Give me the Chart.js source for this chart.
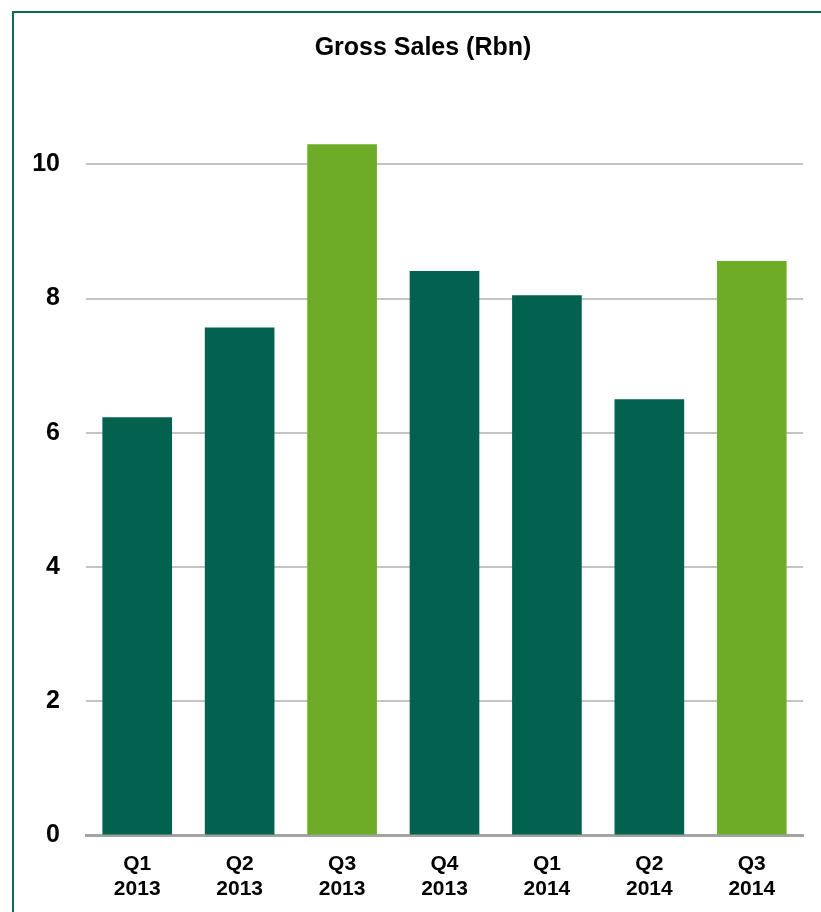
<!DOCTYPE html>
<html>
<head>
<meta charset="utf-8">
<script src="https://cdn.jsdelivr.net/npm/chart.js@4"></script>
<style>
  html, body { margin: 0; padding: 0; background: #ffffff; overflow: hidden; }
  #wrap { position: relative; width: 821px; height: 912px; }
  #frame {
    position: absolute; left: 12px; top: 11px;
    width: 900px; height: 1000px;
    border-left: 2px solid #0b6a55; border-top: 2px solid #0b6a55;
    box-sizing: border-box;
  }
  canvas { position: absolute; left: 0; top: 0; }
</style>
</head>
<body>
<div id="wrap">
  <div id="frame"></div>
  <canvas id="chart" width="821" height="912"></canvas>
</div>
<script>
// Quarterly gross sales, in R billion
const quarters = [["Q1", "2013"], ["Q2", "2013"], ["Q3", "2013"], ["Q4", "2013"], ["Q1", "2014"], ["Q2", "2014"], ["Q3", "2014"]];
const grossSales = [6.23, 7.57, 10.30, 8.41, 8.05, 6.50, 8.56];
// Third quarters are highlighted
const highlighted = [false, false, true, false, false, false, true];
const yTicks = [0, 2, 4, 6, 8, 10];
const chartTitle = 'Gross Sales (Rbn)';

const DARK = '#02614f';
const LIGHT = '#6eab26';
const FONT = '"Liberation Sans", Arial, sans-serif';

// Title centred over the framed panel rather than the whole canvas
const panelTitle = {
  id: 'panelTitle',
  afterDraw(chart) {
    const ctx = chart.ctx;
    ctx.save();
    ctx.font = 'bold 25px ' + FONT;
    ctx.fillStyle = '#000000';
    ctx.textAlign = 'center';
    ctx.textBaseline = 'middle';
    ctx.fillText(chartTitle, 423, 48);
    ctx.restore();
  }
};

new Chart(document.getElementById('chart'), {
  type: 'bar',
  data: {
    labels: quarters,
    datasets: [{
      data: grossSales,
      backgroundColor: highlighted.map(h => h ? LIGHT : DARK),
      borderWidth: 0,
      categoryPercentage: 1.0,
      barPercentage: 0.68
    }]
  },
  plugins: [panelTitle],
  options: {
    responsive: false,
    animation: false,
    devicePixelRatio: 1,
    layout: { padding: { top: 124, right: 18, bottom: -6, left: 0 } },
    plugins: {
      legend: { display: false },
      tooltip: { enabled: false },
      title: { display: false }
    },
    scales: {
      x: {
        grid: { display: false, drawTicks: false },
        border: { display: true, color: '#a3a3a3', width: 3 },
        ticks: {
          color: '#000000',
          padding: 16,
          maxRotation: 0,
          font: { family: FONT, size: 21, weight: 'bold', lineHeight: 1.2 }
        }
      },
      y: {
        min: 0,
        max: 10.6,
        afterBuildTicks: (scale) => { scale.ticks = yTicks.map(v => ({ value: v })); },
        afterFit: (scale) => { scale.width = 86; },
        border: { display: false },
        grid: {
          drawTicks: false,
          color: (ctx) => ctx.tick && ctx.tick.value === 0 ? 'rgba(0,0,0,0)' : '#c4c4c4',
          lineWidth: 2
        },
        ticks: {
          color: '#000000',
          padding: 26,
          font: { family: FONT, size: 25, weight: 'bold' },
          callback: (v) => String(v)
        }
      }
    }
  }
});
</script>
</body>
</html>
